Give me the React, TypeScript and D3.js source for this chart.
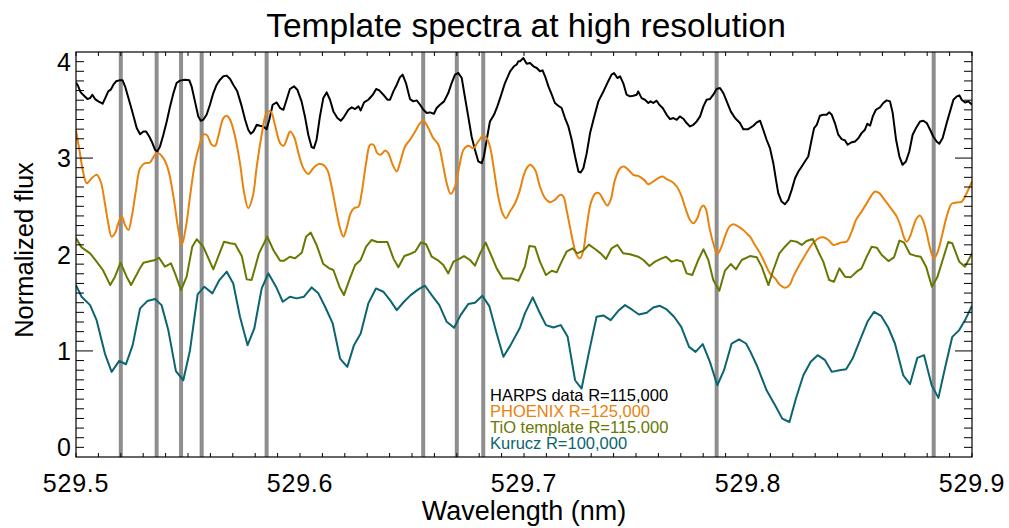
import React from "react";
import * as d3 from "d3";

const title = "Template spectra at high resolution";
const xLabel = "Wavelength (nm)";
const yLabel = "Normalized flux";
const xTickLabels = [529.5, 529.6, 529.7, 529.8, 529.9];
const yTickLabels = [0, 1, 2, 3, 4];
const legendLabels = ["HARPS data R=115,000", "PHOENIX R=125,000", "TiO template R=115.000", "Kurucz R=100,000"];
const lineMarkers = [529.52, 529.536, 529.5469, 529.5561, 529.5851, 529.655, 529.67, 529.6818, 529.786, 529.8829];

const harps: [number, number][] = [
[529.5000,3.785],[529.5010,3.744],[529.5021,3.681],[529.5036,3.647],[529.5051,3.612],[529.5063,3.622],[529.5073,3.657],[529.5085,3.612],[529.5100,3.588],[529.5119,3.564],[529.5134,3.640],[529.5144,3.692],[529.5155,3.709],[529.5167,3.761],[529.5179,3.796],[529.5193,3.806],[529.5208,3.806],[529.5219,3.744],[529.5234,3.622],[529.5249,3.501],[529.5259,3.415],[529.5271,3.311],[529.5286,3.248],[529.5301,3.276],[529.5313,3.276],[529.5327,3.224],[529.5338,3.172],[529.5353,3.086],[529.5363,3.068],[529.5375,3.120],[529.5390,3.242],[529.5405,3.380],[529.5420,3.536],[529.5435,3.674],[529.5449,3.778],[529.5464,3.803],[529.5487,3.813],[529.5506,3.806],[529.5516,3.744],[529.5531,3.588],[529.5546,3.432],[529.5557,3.387],[529.5568,3.397],[529.5583,3.449],[529.5598,3.553],[529.5613,3.674],[529.5628,3.761],[529.5643,3.813],[529.5658,3.848],[529.5673,3.855],[529.5688,3.820],[529.5702,3.761],[529.5720,3.692],[529.5740,3.536],[529.5755,3.397],[529.5769,3.294],[529.5780,3.252],[529.5792,3.276],[529.5807,3.345],[529.5821,3.335],[529.5836,3.328],[529.5851,3.300],[529.5863,3.397],[529.5878,3.553],[529.5896,3.577],[529.5911,3.519],[529.5926,3.501],[529.5940,3.605],
[529.5955,3.716],[529.5973,3.744],[529.5988,3.709],[529.6007,3.588],[529.6022,3.432],[529.6037,3.242],[529.6052,3.113],[529.6062,3.103],[529.6074,3.190],[529.6089,3.432],[529.6104,3.622],[529.6119,3.681],[529.6134,3.605],[529.6149,3.484],[529.6167,3.415],[529.6182,3.387],[529.6196,3.425],[529.6216,3.501],[529.6231,3.526],[529.6246,3.508],[529.6261,3.536],[529.6271,3.494],[529.6286,3.577],[529.6305,3.605],[529.6325,3.657],[529.6340,3.716],[529.6354,3.702],[529.6372,3.657],[529.6390,3.605],[529.6402,3.605],[529.6417,3.692],[529.6432,3.761],[529.6446,3.837],[529.6458,3.865],[529.6473,3.778],[529.6491,3.612],[529.6506,3.588],[529.6521,3.598],[529.6536,3.553],[529.6551,3.501],[529.6566,3.467],[529.6580,3.474],[529.6598,3.460],[529.6610,3.519],[529.6625,3.553],[529.6643,3.588],[529.6662,3.674],[529.6677,3.778],[529.6692,3.865],[529.6707,3.882],[529.6722,3.830],[529.6737,3.622],[529.6751,3.432],[529.6766,3.224],[529.6781,3.086],[529.6796,2.965],[529.6811,2.947],[529.6821,3.016],[529.6836,3.224],[529.6848,3.380],[529.6866,3.449],[529.6881,3.536],[529.6896,3.640],[529.6915,3.778],[529.6938,3.900],[529.6955,3.952],[529.6967,3.969],[529.6975,4.003],
[529.6982,4.003],[529.6997,4.038],[529.7012,3.979],[529.7027,3.986],[529.7042,3.952],[529.7057,3.934],[529.7071,3.900],[529.7083,3.910],[529.7094,3.848],[529.7109,3.744],[529.7124,3.657],[529.7138,3.571],[529.7153,3.543],[529.7168,3.519],[529.7183,3.415],[529.7198,3.328],[529.7213,3.190],[529.7228,3.016],[529.7243,2.861],[529.7253,2.850],[529.7265,2.895],[529.7280,3.051],[529.7295,3.259],[529.7310,3.397],[529.7332,3.588],[529.7351,3.674],[529.7372,3.778],[529.7391,3.865],[529.7402,3.882],[529.7417,3.830],[529.7429,3.848],[529.7443,3.778],[529.7458,3.657],[529.7473,3.640],[529.7488,3.647],[529.7503,3.657],[529.7510,3.692],[529.7525,3.622],[529.7540,3.605],[529.7555,3.571],[529.7565,3.588],[529.7577,3.571],[529.7592,3.595],[529.7604,3.553],[529.7619,3.519],[529.7637,3.449],[529.7652,3.404],[529.7667,3.415],[529.7682,3.397],[529.7696,3.432],[529.7711,3.408],[529.7726,3.363],[529.7741,3.328],[529.7756,3.345],[529.7771,3.380],[529.7786,3.432],[529.7801,3.536],[529.7815,3.605],[529.7830,3.612],[529.7845,3.657],[529.7860,3.716],[529.7875,3.726],[529.7890,3.674],[529.7905,3.588],[529.7923,3.484],[529.7942,3.415],[529.7964,3.363],[529.7979,3.300],
[529.8001,3.300],[529.8024,3.335],[529.8039,3.370],[529.8054,3.387],[529.8068,3.294],[529.8083,3.190],[529.8098,3.103],[529.8113,2.947],[529.8125,2.774],[529.8135,2.636],[529.8150,2.549],[529.8165,2.521],[529.8180,2.566],[529.8195,2.670],[529.8210,2.791],[529.8225,2.861],[529.8240,2.913],[529.8254,2.965],[529.8269,3.016],[529.8284,3.190],[529.8295,3.311],[529.8307,3.345],[529.8321,3.439],[529.8336,3.449],[529.8351,3.449],[529.8363,3.474],[529.8374,3.449],[529.8388,3.363],[529.8403,3.242],[529.8418,3.197],[529.8433,3.183],[529.8445,3.138],[529.8460,3.162],[529.8478,3.172],[529.8493,3.207],[529.8507,3.259],[529.8522,3.294],[529.8533,3.356],[529.8545,3.335],[529.8557,3.432],[529.8571,3.501],[529.8589,3.526],[529.8604,3.571],[529.8619,3.598],[529.8634,3.588],[529.8646,3.467],[529.8661,3.190],[529.8676,3.016],[529.8690,2.930],[529.8705,2.965],[529.8720,3.068],[529.8735,3.242],[529.8750,3.311],[529.8768,3.380],[529.8783,3.387],[529.8798,3.363],[529.8813,3.294],[529.8827,3.224],[529.8842,3.172],[529.8854,3.148],[529.8869,3.207],[529.8887,3.363],[529.8902,3.484],[529.8917,3.605],[529.8932,3.640],[529.8944,3.650],[529.8954,3.605],[529.8969,3.577],[529.8984,3.588],[529.9000,3.553]
];

const phoenix: [number, number][] = [
[529.5000,3.287],[529.5015,3.086],[529.5033,2.843],[529.5048,2.739],[529.5070,2.791],[529.5092,2.826],[529.5110,2.757],[529.5129,2.532],[529.5144,2.324],[529.5159,2.185],[529.5174,2.220],[529.5189,2.324],[529.5204,2.393],[529.5219,2.306],[529.5234,2.255],[529.5249,2.393],[529.5268,2.670],[529.5286,2.895],[529.5308,2.947],[529.5330,2.954],[529.5353,3.034],[529.5368,3.051],[529.5390,2.999],[529.5412,2.878],[529.5435,2.601],[529.5457,2.255],[529.5472,2.099],[529.5491,2.289],[529.5509,2.601],[529.5531,2.947],[529.5554,3.155],[529.5568,3.242],[529.5583,3.242],[529.5606,3.138],[529.5621,3.127],[529.5635,3.224],[529.5658,3.415],[529.5673,3.439],[529.5688,3.397],[529.5710,3.224],[529.5732,2.947],[529.5751,2.636],[529.5769,2.480],[529.5789,2.601],[529.5807,2.913],[529.5829,3.242],[529.5851,3.467],[529.5869,3.484],[529.5888,3.345],[529.5911,3.155],[529.5926,3.127],[529.5948,3.242],
[529.5955,3.276],[529.5973,3.224],[529.5993,3.051],[529.6015,2.895],[529.6037,2.836],[529.6059,2.895],[529.6082,2.937],[529.6104,2.930],[529.6122,2.878],[529.6141,2.705],[529.6164,2.428],[529.6181,2.255],[529.6194,2.185],[529.6208,2.272],[529.6226,2.428],[529.6241,2.480],[529.6261,2.497],[529.6275,2.636],[529.6295,2.947],[529.6313,3.138],[529.6328,3.138],[529.6345,3.051],[529.6360,3.034],[529.6380,3.079],[529.6394,3.051],[529.6414,2.930],[529.6432,2.861],[529.6446,2.947],[529.6469,3.120],[529.6491,3.190],[529.6514,3.276],[529.6536,3.363],[529.6551,3.387],[529.6573,3.311],[529.6595,3.207],[529.6618,3.138],[529.6637,2.947],[529.6655,2.739],[529.6673,2.629],[529.6692,2.705],[529.6711,2.913],[529.6730,3.086],[529.6751,3.127],[529.6774,3.103],[529.6796,3.172],[529.6818,3.231],[529.6833,3.207],[529.6848,3.120],[529.6866,2.878],[529.6885,2.601],[529.6904,2.428],[529.6919,2.376],[529.6937,2.445],[529.6960,2.532],
[529.6982,2.670],[529.6997,2.809],[529.7012,2.895],[529.7027,2.930],[529.7049,2.878],[529.7071,2.705],[529.7094,2.584],[529.7116,2.542],[529.7138,2.566],[529.7161,2.618],[529.7176,2.601],[529.7190,2.462],[529.7205,2.289],[529.7220,2.116],[529.7235,1.995],[529.7250,1.960],[529.7265,2.047],[529.7280,2.289],[529.7298,2.532],[529.7317,2.629],[529.7335,2.636],[529.7354,2.566],[529.7372,2.507],[529.7387,2.566],[529.7406,2.774],[529.7429,2.895],[529.7446,2.913],[529.7466,2.878],[529.7488,2.826],[529.7510,2.816],[529.7536,2.774],[529.7555,2.729],[529.7577,2.757],[529.7599,2.791],[529.7619,2.809],[529.7637,2.781],[529.7659,2.757],[529.7682,2.705],[529.7704,2.601],[529.7723,2.462],[529.7741,2.358],[529.7756,2.324],[529.7774,2.376],[529.7789,2.480],[529.7801,2.507],[529.7813,2.462],[529.7827,2.289],[529.7845,2.116],[529.7863,2.005],[529.7882,2.081],[529.7897,2.185],[529.7917,2.289],[529.7935,2.313],[529.7957,2.289],[529.7979,2.255],[529.8001,2.203],
[529.8009,2.185],[529.8031,2.099],[529.8054,2.012],[529.8076,1.908],[529.8098,1.804],[529.8121,1.752],[529.8143,1.683],[529.8165,1.655],[529.8185,1.683],[529.8202,1.770],[529.8225,1.874],[529.8247,1.960],[529.8269,2.047],[529.8292,2.123],[529.8314,2.168],[529.8336,2.178],[529.8359,2.151],[529.8381,2.099],[529.8399,2.109],[529.8418,2.126],[529.8440,2.133],[529.8463,2.237],[529.8482,2.358],[529.8507,2.445],[529.8530,2.532],[529.8548,2.601],[529.8567,2.653],[529.8586,2.636],[529.8604,2.584],[529.8627,2.514],[529.8649,2.445],[529.8664,2.393],[529.8682,2.289],[529.8696,2.178],[529.8708,2.133],[529.8723,2.185],[529.8738,2.289],[529.8753,2.376],[529.8768,2.403],[529.8783,2.341],[529.8798,2.220],[529.8813,2.064],[529.8830,1.960],[529.8847,2.029],[529.8865,2.185],[529.8887,2.393],[529.8909,2.525],[529.8932,2.539],[529.8954,2.549],[529.8976,2.636],[529.9000,2.757]
];

const tio: [number, number][] = [
[529.5000,2.168],[529.5025,2.074],[529.5063,2.012],[529.5092,1.926],[529.5120,1.839],[529.5153,1.683],[529.5174,1.770],[529.5199,1.915],[529.5226,1.770],[529.5246,1.683],[529.5283,1.846],[529.5301,1.915],[529.5353,1.943],[529.5371,1.967],[529.5397,1.874],[529.5424,1.908],[529.5442,1.804],[529.5469,1.631],[529.5494,1.770],[529.5519,2.081],[529.5539,2.158],[529.5568,2.081],[529.5613,1.846],[529.5635,1.977],[529.5661,2.133],[529.5688,2.116],[529.5710,2.109],[529.5740,1.984],[529.5762,1.742],[529.5784,1.735],[529.5817,2.012],[529.5854,2.185],[529.5881,2.047],[529.5911,1.936],[529.5929,1.936],
[529.5955,1.977],[529.5978,1.960],[529.6008,2.019],[529.6027,2.185],[529.6048,2.227],[529.6074,2.099],[529.6104,1.901],[529.6131,1.856],[529.6149,1.839],[529.6176,1.666],[529.6196,1.579],[529.6220,1.735],[529.6246,1.891],[529.6271,1.943],[529.6295,2.081],[529.6320,2.151],[529.6345,2.130],[529.6390,2.130],[529.6417,1.960],[529.6439,1.867],[529.6466,1.984],[529.6491,2.005],[529.6514,2.029],[529.6540,2.126],[529.6563,2.106],[529.6588,1.977],[529.6618,1.936],[529.6640,1.891],[529.6662,1.804],[529.6685,1.926],[529.6707,1.950],[529.6732,1.984],[529.6759,1.943],[529.6781,1.884],[529.6804,2.012],[529.6829,2.123],[529.6856,1.977],[529.6878,1.856],[529.6905,1.752],[529.6945,1.752],[529.6975,1.728],
[529.7004,1.874],[529.7024,2.088],[529.7049,2.081],[529.7071,1.926],[529.7098,1.787],[529.7124,1.832],[529.7146,1.815],[529.7168,1.926],[529.7190,2.029],[529.7217,2.064],[529.7238,2.012],[529.7265,2.040],[529.7290,2.102],[529.7317,2.057],[529.7342,2.012],[529.7366,1.953],[529.7391,2.064],[529.7417,2.099],[529.7443,2.012],[529.7473,2.002],[529.7510,1.977],[529.7533,1.943],[529.7560,1.881],[529.7585,1.926],[529.7615,1.960],[529.7634,1.977],[529.7659,1.926],[529.7682,1.943],[529.7707,1.926],[529.7726,1.804],[529.7751,1.787],[529.7778,1.943],[529.7801,2.054],[529.7823,1.943],[529.7845,1.735],[529.7872,1.624],[529.7897,1.832],[529.7923,1.901],[529.7946,1.846],[529.7972,1.943],
[529.8009,1.984],[529.8039,1.971],[529.8061,1.874],[529.8091,1.683],[529.8113,1.839],[529.8140,2.012],[529.8165,2.081],[529.8191,2.144],[529.8217,2.133],[529.8240,2.099],[529.8262,2.140],[529.8289,2.161],[529.8314,2.029],[529.8336,1.926],[529.8362,1.735],[529.8384,1.718],[529.8408,1.856],[529.8433,1.770],[529.8458,1.763],[529.8485,1.822],[529.8507,1.856],[529.8530,1.977],[529.8552,2.081],[529.8575,2.071],[529.8597,1.995],[529.8627,1.932],[529.8652,1.971],[529.8676,2.144],[529.8696,2.126],[529.8723,2.005],[529.8746,1.988],[529.8771,1.977],[529.8795,1.874],[529.8821,1.666],[529.8845,1.763],[529.8869,1.943],[529.8894,2.130],[529.8912,2.116],[529.8943,1.926],[529.8969,1.874],[529.9000,2.012]
];

const kurucz: [number, number][] = [
[529.5000,1.683],[529.5025,1.562],[529.5063,1.475],[529.5092,1.319],[529.5129,0.973],[529.5159,0.783],[529.5193,0.897],[529.5223,0.862],[529.5253,1.060],[529.5286,1.441],[529.5318,1.517],[529.5353,1.538],[529.5382,1.475],[529.5412,1.216],[529.5446,0.790],[529.5479,0.696],[529.5509,1.008],[529.5543,1.586],[529.5573,1.666],[529.5609,1.597],[529.5640,1.735],[529.5673,1.822],[529.5702,1.700],[529.5732,1.354],[529.5766,1.060],[529.5796,1.233],[529.5829,1.648],[529.5859,1.804],[529.5893,1.666],[529.5923,1.510],
[529.5955,1.562],[529.5985,1.545],[529.6018,1.562],[529.6052,1.659],[529.6082,1.597],[529.6112,1.458],[529.6146,1.285],[529.6179,0.921],[529.6211,0.835],[529.6241,1.060],[529.6271,1.181],[529.6305,1.493],[529.6339,1.648],[529.6372,1.614],[529.6402,1.527],[529.6432,1.423],[529.6464,1.510],[529.6494,1.579],[529.6528,1.638],[529.6558,1.676],[529.6588,1.579],[529.6622,1.475],[529.6655,1.302],[529.6688,1.240],[529.6717,1.371],[529.6751,1.486],[529.6781,1.500],[529.6814,1.572],[529.6845,1.465],[529.6878,1.181],[529.6908,0.939],[529.6940,1.060],
[529.6982,1.240],[529.7004,1.389],[529.7039,1.555],[529.7068,1.406],[529.7098,1.268],[529.7131,1.243],[529.7164,1.268],[529.7195,1.146],[529.7228,0.696],[529.7257,0.610],[529.7292,1.008],[529.7324,1.354],[529.7354,1.368],[529.7387,1.319],[529.7421,1.416],[529.7451,1.475],[529.7481,1.430],[529.7513,1.378],[529.7548,1.396],[529.7577,1.451],[529.7607,1.468],[529.7637,1.430],[529.7670,1.354],[529.7702,1.250],[529.7737,1.042],[529.7766,0.990],[529.7798,1.070],[529.7830,0.887],[529.7863,0.644],[529.7893,0.800],[529.7927,1.077],[529.7960,1.119],[529.7991,1.077],
[529.8009,1.000],[529.8039,0.852],[529.8083,0.592],[529.8121,0.436],[529.8153,0.298],[529.8185,0.263],[529.8214,0.506],[529.8247,0.748],[529.8280,0.887],[529.8311,0.956],[529.8344,0.904],[529.8374,0.783],[529.8408,0.800],[529.8438,0.810],[529.8467,0.921],[529.8500,1.112],[529.8533,1.302],[529.8563,1.406],[529.8594,1.364],[529.8626,1.243],[529.8656,1.077],[529.8693,0.748],[529.8723,0.655],[529.8756,0.928],[529.8786,0.956],[529.8820,0.644],[529.8850,0.513],[529.8879,0.817],[529.8912,1.146],[529.8943,1.216],[529.8973,1.337],[529.9000,1.468]
];

const seriesColors = ["#000000", "#E8830E", "#687800", "#0B6470"];

const W = 1009;
const H = 528;
const M = { left: 76, right: 972, top: 52, bottom: 457 };
const FONT = "'Liberation Sans', Arial, Helvetica, sans-serif";

export default function App() {
  const x = d3.scaleLinear().domain([529.5, 529.9]).range([M.left, M.right]);
  const y = d3.scaleLinear().domain([-0.1, 4.1]).range([M.bottom, M.top]);

  const lin = d3.line<[number, number]>().x((d) => x(d[0])).y((d) => y(d[1]));
  const smooth = d3
    .line<[number, number]>()
    .x((d) => x(d[0]))
    .y((d) => y(d[1]))
    .curve(d3.curveCatmullRom.alpha(0.5));

  const series = [
    { data: harps, gen: lin },
    { data: phoenix, gen: smooth },
    { data: tio, gen: lin },
    { data: kurucz, gen: lin },
  ];

  const yMinor = d3.range(0, 41).map((i) => i / 10);
  const xMinor = d3.range(0, 41).map((i) => 529.5 + i / 100);

  return (
    <svg width={W} height={H} style={{ display: "block", position: "absolute", left: 0, top: 0, background: "#fff" }}>
      <rect x={0} y={0} width={W} height={H} fill="#fff" />
      <defs>
        <clipPath id="plotclip">
          <rect x={M.left} y={M.top} width={M.right - M.left} height={M.bottom - M.top} />
        </clipPath>
      </defs>

      {lineMarkers.map((w, i) => (
        <line key={"m" + i} x1={x(w)} x2={x(w)} y1={M.top} y2={M.bottom} stroke="#8E8E8E" strokeWidth={4} />
      ))}

      <g clipPath="url(#plotclip)">
        {series.map((s, i) => (
          <path key={"s" + i} d={s.gen(s.data) || ""} fill="none" stroke={seriesColors[i]} strokeWidth={2} strokeLinejoin="round" />
        ))}
      </g>

      <rect x={M.left} y={M.top} width={M.right - M.left} height={M.bottom - M.top} fill="none" stroke="#000" strokeWidth={1.2} />

      {yMinor.map((v, i) => {
        const long = Math.abs(v - 1) < 1e-6 || Math.abs(v - 3) < 1e-6;
        const len = long ? 17 : 8;
        return (
          <g key={"yt" + i}>
            <line x1={M.left} x2={M.left + len} y1={y(v)} y2={y(v)} stroke="#000" strokeWidth={1} />
            <line x1={M.right} x2={M.right - len} y1={y(v)} y2={y(v)} stroke="#000" strokeWidth={1} />
          </g>
        );
      })}
      {xMinor.map((v, i) => (
        <g key={"xt" + i}>
          <line x1={x(v)} x2={x(v)} y1={M.bottom} y2={M.bottom - 4} stroke="#000" strokeWidth={1} />
          <line x1={x(v)} x2={x(v)} y1={M.top} y2={M.top + 4} stroke="#000" strokeWidth={1} />
        </g>
      ))}

      {yTickLabels.map((v) => (
        <text key={"yl" + v} x={71} y={y(v)} dy="0.36em" textAnchor="end" fontFamily={FONT} fontSize={25} fill="#000">
          {v}
        </text>
      ))}
      {xTickLabels.map((v) => (
        <text key={"xl" + v} x={x(v)} y={492} textAnchor="middle" fontFamily={FONT} fontSize={25} letterSpacing={0.8} fill="#000">
          {v.toFixed(1)}
        </text>
      ))}

      <text x={(M.left + M.right) / 2 + 2} y={37} textAnchor="middle" fontFamily={FONT} fontSize={33.5} fill="#000">
        {title}
      </text>
      <text x={(M.left + M.right) / 2} y={520} textAnchor="middle" fontFamily={FONT} fontSize={27} fill="#000">
        {xLabel}
      </text>
      <text transform={`translate(33,250) rotate(-90)`} textAnchor="middle" fontFamily={FONT} fontSize={25.5} fill="#000">
        {yLabel}
      </text>

      {legendLabels.map((l, i) => (
        <text key={"lg" + i} x={490} y={401 + i * 16} fontFamily={FONT} fontSize={16.5} fill={seriesColors[i]}>
          {l}
        </text>
      ))}
    </svg>
  );
}
